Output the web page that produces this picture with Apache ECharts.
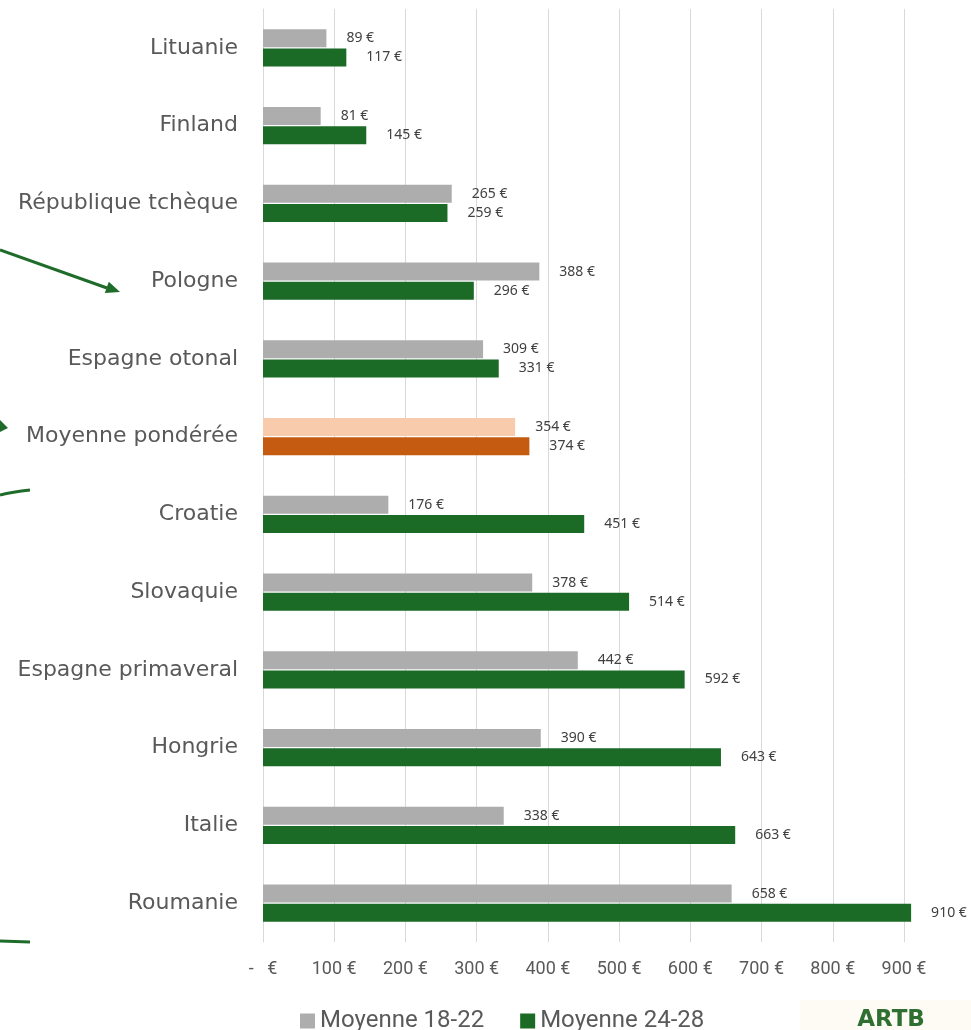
<!DOCTYPE html>
<html>
<head>
<meta charset="utf-8">
<script src="https://cdn.jsdelivr.net/npm/echarts@6/dist/echarts.min.js"></script>
<style>
html,body{margin:0;padding:0;background:#fff;}
#chart{width:971px;height:1030px;}
</style>
</head>
<body>
<div id="chart"></div>
<script>
const categories = ["Lituanie","Finland","République tchèque","Pologne","Espagne otonal","Moyenne pondérée","Croatie","Slovaquie","Espagne primaveral","Hongrie","Italie","Roumanie"];
const moyenne1822 = [89,81,265,388,309,354,176,378,442,390,338,658];
const moyenne2428 = [117,145,259,296,331,374,451,514,592,643,663,910];
const xTicks = [0,100,200,300,400,500,600,700,800,900];
const seriesNames = ["Moyenne 18-22","Moyenne 24-28"];
const highlightCategory = "Moyenne pondérée";

const GREY = '#ADADAD', GREEN = '#1B6B26', PEACH = '#F8CBAD', ORANGE = '#C55A11';
const narrow = "'Roboto', sans-serif";

function build(values, hi){
  return values.map((v,i)=> categories[i]===highlightCategory ? {value:v, itemStyle:{color:hi}} : v);
}
const lbl = {show:true, position:'right', distance:20, formatter: p=>p.value+' €', fontSize:14, color:'#404040', fontFamily:"'Noto Sans', sans-serif"};

const chart = echarts.init(document.getElementById('chart'));
chart.setOption({
  animation:false,
  backgroundColor:'#fff',
  grid:{left:263, right:67, top:9, bottom:88, containLabel:false},
  legend:{
    data:seriesNames, top:1004, left:295, icon:'rect', itemWidth:15, itemHeight:15, itemGap:36,
    textStyle:{fontSize:24, color:'#595959', fontFamily:narrow}
  },
  xAxis:{
    type:'value', min:xTicks[0], max:xTicks[xTicks.length-1], interval:100,
    axisLine:{show:false}, axisTick:{show:false},
    splitLine:{show:true, lineStyle:{color:'#D9D9D9', width:1}},
    axisLabel:{margin:18, fontSize:18, color:'#595959', fontFamily:narrow,
      formatter: v => v===0 ? '-   €' : v+' €'}
  },
  yAxis:{
    type:'category', data:categories, inverse:true,
    axisLine:{show:true, lineStyle:{color:'#D9D9D9'}}, axisTick:{show:false},
    axisLabel:{margin:25, fontSize:22, color:'#595959', fontFamily:"'DejaVu Sans', sans-serif"}
  },
  series:[
    {name:seriesNames[0], type:'bar', data:build(moyenne1822, PEACH), itemStyle:{color:GREY}, barWidth:18, barGap:'6%', label:lbl, clip:false},
    {name:seriesNames[1], type:'bar', data:build(moyenne2428, ORANGE), itemStyle:{color:GREEN}, barWidth:18, barGap:'6%', label:lbl, clip:false}
  ],
  graphic:[
    {type:'line', shape:{x1:0,y1:250,x2:107,y2:288}, style:{stroke:'#1E6B2A', lineWidth:3}, silent:true},
    {type:'polygon', shape:{points:[[120,292],[104.8,293],[108.8,281.7]]}, style:{fill:'#1E6B2A'}, silent:true},
    {type:'polygon', shape:{points:[[0,420],[8,428],[0,432]]}, style:{fill:'#1E6B2A'}, silent:true},
    {type:'bezierCurve', shape:{x1:0,y1:495,x2:30,y2:490,cpx1:12,cpy1:492}, style:{stroke:'#1E6B2A', lineWidth:3, fill:null}, silent:true},
    {type:'line', shape:{x1:0,y1:941,x2:30,y2:942}, style:{stroke:'#1E6B2A', lineWidth:3}, silent:true},
    {type:'rect', shape:{x:800,y:1000,width:171,height:30}, style:{fill:'#FDFBF3'}, silent:true, z:-1},
    {type:'text', x:891, y:1020, style:{text:'ARTB', fill:'#2F6F31', font:"bold 23px 'DejaVu Sans'", textAlign:'center', textVerticalAlign:'middle'}, silent:true}
  ]
});
</script>
</body>
</html>
